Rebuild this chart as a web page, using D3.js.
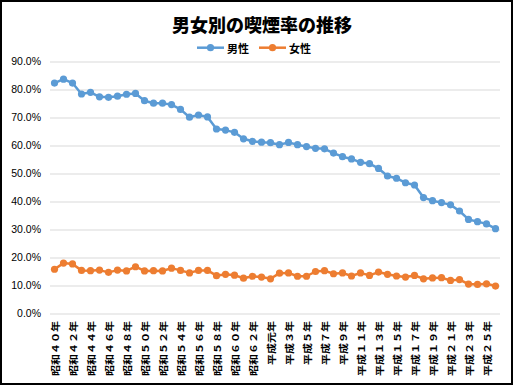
<!DOCTYPE html>
<html>
<head>
<meta charset="utf-8">
<script src="https://cdn.jsdelivr.net/npm/d3@7"></script>
<style>
  body { margin: 0; background: #fff; }
  text { font-family: "Noto Sans CJK JP", "Noto Sans", sans-serif; }
</style>
</head>
<body>
<div id="chart"></div>
<script>
// Data
var years = [
    "昭和４０年", "昭和４１年", "昭和４２年", "昭和４３年", "昭和４４年", "昭和４５年", "昭和４６年", "昭和４７年",
    "昭和４８年", "昭和４９年", "昭和５０年", "昭和５１年", "昭和５２年", "昭和５３年", "昭和５４年", "昭和５５年",
    "昭和５６年", "昭和５７年", "昭和５８年", "昭和５９年", "昭和６０年", "昭和６１年", "昭和６２年", "昭和６３年",
    "平成元年", "平成２年", "平成３年", "平成４年", "平成５年", "平成６年", "平成７年", "平成８年",
    "平成９年", "平成１０年", "平成１１年", "平成１２年", "平成１３年", "平成１４年", "平成１５年", "平成１６年",
    "平成１７年", "平成１８年", "平成１９年", "平成２０年", "平成２１年", "平成２２年", "平成２３年", "平成２４年",
    "平成２５年", "平成２６年"
];

var male = [
    82.3, 83.7, 82.3, 78.4, 79.0, 77.4, 77.2, 77.6, 78.3, 78.6,
    76.0, 75.1, 75.1, 74.6, 72.9, 70.1, 70.9, 70.2, 65.9, 65.5,
    64.7, 62.4, 61.5, 61.2, 61.0, 60.3, 61.1, 60.3, 59.6, 59.0,
    58.8, 57.3, 56.0, 55.2, 54.0, 53.5, 51.8, 49.1, 48.3, 46.7,
    45.9, 41.4, 40.3, 39.6, 38.8, 36.6, 33.6, 32.8, 32.0, 30.3
];

var female = [
    15.8, 18.0, 17.7, 15.4, 15.3, 15.5, 14.7, 15.5, 15.2, 16.7,
    15.2, 15.3, 15.2, 16.2, 15.4, 14.5, 15.4, 15.4, 13.5, 14.0,
    13.7, 12.6, 13.3, 13.0, 12.4, 14.4, 14.5, 13.3, 13.3, 15.0,
    15.3, 14.2, 14.5, 13.4, 14.5, 13.6, 14.8, 14.0, 13.4, 13.0,
    13.6, 12.4, 12.7, 12.8, 11.8, 12.1, 10.5, 10.4, 10.6, 9.8
];

var yTicks = [0, 10, 20, 30, 40, 50, 60, 70, 80, 90];

var series = [
    { name: "男性", values: male, color: "#5B9BD5" },
    { name: "女性", values: female, color: "#ED7D31" }
];

// SVG setup
var svgWidth = 516;
var svgHeight = 389;
var plot = { left: 50, right: 500, top: 61.5, bottom: 313.5 };

var svg = d3.select("#chart")
    .append("svg")
    .attr("width", svgWidth)
    .attr("height", svgHeight);

// chart frame
svg.append("rect")
    .attr("x", 1)
    .attr("y", 1)
    .attr("width", 511)
    .attr("height", 383)
    .attr("fill", "#fff")
    .attr("stroke", "#000")
    .attr("stroke-width", 2);

// Scales
var x = d3.scalePoint()
    .domain(years)
    .range([plot.left, plot.right])
    .padding(0.5);

var y = d3.scaleLinear()
    .domain([0, 90])
    .range([plot.bottom, plot.top]);

// Y axis with gridlines
var yAxis = svg.append("g")
    .attr("transform", `translate(${plot.left}, 0)`)
    .call(d3.axisLeft(y)
        .tickValues(yTicks)
        .tickSize(-(plot.right - plot.left))
        .tickPadding(9)
        .tickFormat(d => d.toFixed(1) + "%"));

yAxis.select(".domain").remove();
yAxis.selectAll(".tick line")
    .attr("stroke", "#D9D9D9")
    .attr("stroke-width", 1);
yAxis.selectAll(".tick text")
    .attr("fill", "#000")
    .style("font-family", "'Liberation Sans', Arial, sans-serif")
    .style("font-size", "10.5px");

// X labels, every other year, rotated
svg.append("g").selectAll("text")
    .data(years.filter((d, i) => i % 2 === 0))
    .enter()
    .append("text")
    .attr("transform", d => `translate(${x(d)}, 321) rotate(-90) scale(1, 0.85)`)
    .attr("text-anchor", "end")
    .attr("dominant-baseline", "central")
    .attr("font-weight", "bold")
    .attr("fill", "#000")
    .style("font-size", "11px")
    .text(d => d);

// Lines and markers
var line = d3.line()
    .x((d, i) => x(years[i]))
    .y(d => y(d));

series.forEach(s => {
    svg.append("path")
        .datum(s.values)
        .attr("fill", "none")
        .attr("stroke", s.color)
        .attr("stroke-width", 2.5)
        .attr("stroke-linejoin", "round")
        .attr("d", line);

    svg.append("g").selectAll("circle")
        .data(s.values)
        .enter()
        .append("circle")
        .attr("cx", (d, i) => x(years[i]))
        .attr("cy", d => y(d))
        .attr("r", 3.6)
        .attr("fill", s.color);
});

// Title
svg.append("text")
    .attr("x", 262)
    .attr("y", 23.5)
    .attr("text-anchor", "middle")
    .attr("dominant-baseline", "central")
    .attr("font-weight", "900")
    .attr("fill", "#000")
    .style("font-size", "18px")
    .text("男女別の喫煙率の推移");

// Legend
var legendX = [197, 259];
var legend = svg.append("g").selectAll("g")
    .data(series)
    .enter()
    .append("g")
    .attr("transform", (d, i) => `translate(${legendX[i]}, 47.7)`);

legend.append("line")
    .attr("x1", 0)
    .attr("x2", 27)
    .attr("stroke", d => d.color)
    .attr("stroke-width", 2.5);

legend.append("circle")
    .attr("cx", 13.5)
    .attr("r", 3.6)
    .attr("fill", d => d.color);

legend.append("text")
    .attr("x", 30)
    .attr("dominant-baseline", "central")
    .attr("font-weight", "bold")
    .attr("fill", "#000")
    .style("font-size", "11px")
    .text(d => d.name);
</script>
</body>
</html>
